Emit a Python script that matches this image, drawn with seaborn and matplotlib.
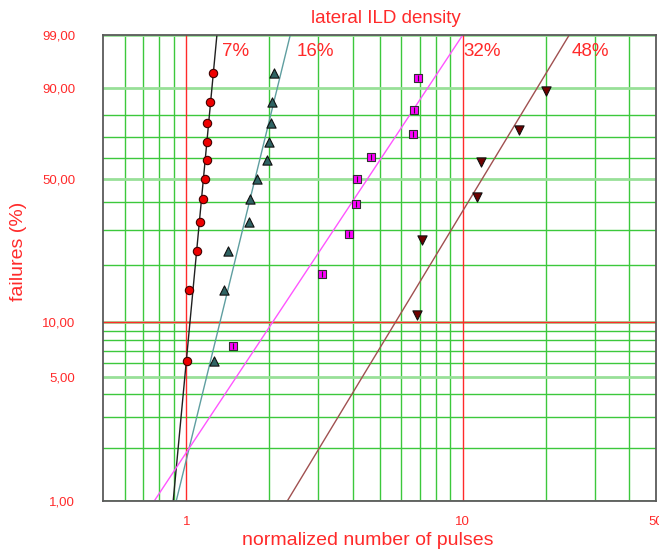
import numpy as np
import matplotlib
matplotlib.use("Agg")
import matplotlib.pyplot as plt
from matplotlib.ticker import FixedLocator, NullFormatter
import seaborn as sns

# normalized number of pulses and failure ranks (%)
pulses_7 = [1.006, 1.023, 1.096, 1.124, 1.146, 1.169, 1.188, 1.188, 1.188, 1.214, 1.245]
fail_7 = [6.1, 14.9, 23.7, 32.5, 41.2, 50.0, 58.8, 67.5, 76.3, 85.1, 93.9]

pulses_16 = [1.26, 1.365, 1.42, 1.69, 1.70, 1.80, 1.963, 1.99, 2.03, 2.05, 2.07]
fail_16 = [6.1, 14.9, 23.7, 32.5, 41.2, 50.0, 58.8, 67.5, 76.3, 85.1, 93.9]

pulses_32 = [1.48, 3.10, 3.88, 4.11, 4.15, 4.67, 6.61, 6.68, 6.87]
fail_32 = [7.4, 18.1, 28.7, 39.4, 50.0, 60.6, 71.3, 81.9, 92.6]

pulses_48 = [6.84, 7.15, 11.27, 11.6, 16.0, 19.97]
fail_48 = [10.9, 26.6, 42.2, 57.8, 73.4, 89.1]

# fitted weibull lines: pulses at 1 % and at 99 %
fit_lo = [0.897, 0.920, 0.766, 2.32]
fit_hi = [1.291, 2.378, 10.0, 24.27]
fit_f = [1, 99]

density_labels = ["7%", "16%", "32%", "48%"]

y_ticks = [1, 5, 10, 50, 90, 99]
y_ticklabels = ["1,00", "5,00", "10,00", "50,00", "90,00", "99,00"]
y_minor = [2, 3, 4, 6, 7, 8, 9, 20, 30, 40, 60, 70, 80]
x_ticks = [0.5, 1, 10, 50]
x_ticklabels = ["", "1", "10", "50"]
x_minor = [0.6, 0.7, 0.8, 0.9, 2, 3, 4, 5, 6, 7, 8, 9, 20, 30, 40]


def weib(p):
    p = np.clip(np.asarray(p, dtype=float), 1e-6, 100 - 1e-6)
    return np.log(-np.log(1 - p / 100))


def weib_inv(t):
    return 100 * (1 - np.exp(-np.exp(t)))


sns.set_style("white")
plt.rcParams['font.family'] = ['Liberation Sans', 'DejaVu Sans']

RED = '#ff2a2a'
GREEN = '#3cc83c'
GREEN_MAJ = '#98e098'
GRAY = '#5a5a5a'

fig = plt.figure(figsize=(6.59, 5.52), dpi=100)
ax = fig.add_axes([103/659, 1 - 501/552, 553/659, 466/552])

ax.set_xscale('log')
ax.set_yscale('function', functions=(weib, weib_inv))
ax.set_xlim(0.5, 50)
ax.set_ylim(1, 99)

ax.set_xticks(x_ticks, labels=x_ticklabels)
ax.xaxis.set_minor_locator(FixedLocator(x_minor))
ax.xaxis.set_minor_formatter(NullFormatter())
ax.set_yticks(y_ticks, labels=y_ticklabels)
ax.yaxis.set_minor_locator(FixedLocator(y_minor))
ax.yaxis.set_minor_formatter(NullFormatter())

ax.set_axisbelow(True)
ax.grid(which='minor', color=GREEN, lw=1, zorder=0)
ax.yaxis.grid(True, which='major', color=GREEN_MAJ, lw=2, zorder=0)
ax.xaxis.grid(False, which='major')
ax.axvline(1, color=RED, lw=1, zorder=1)
ax.axvline(10, color=RED, lw=1, zorder=1)
ax.axhline(10, color=RED, lw=1, zorder=1)

ax.tick_params(which='minor', length=0)
ax.tick_params(axis='both', which='major', length=7, width=1.2, color=GRAY,
               labelcolor=RED, labelsize=9.5)
ax.tick_params(axis='y', pad=13)
ax.tick_params(axis='x', pad=4)
ytick_cols = [GRAY, GREEN_MAJ, RED, GREEN_MAJ, GREEN_MAJ, GRAY]
for t, c in zip(ax.yaxis.get_major_ticks(), ytick_cols):
    t.tick1line.set_markeredgecolor(c)
for t in ax.xaxis.get_major_ticks()[1:3]:
    t.tick1line.set_visible(False)
for s in ax.spines.values():
    s.set_color(GRAY)
    s.set_linewidth(1.3)

# fit lines
line_cols = ['#202020', '#5f9ea0', '#ff55ff', '#a05050']
for lo, hi, c in zip(fit_lo, fit_hi, line_cols):
    sns.lineplot(x=[lo, hi], y=fit_f, color=c, lw=1, sort=False, ax=ax, zorder=2)

# data points
sns.scatterplot(x=pulses_7, y=fail_7, marker='o', s=36, color='#ee0000',
                edgecolor='#400000', linewidth=0.8, ax=ax, zorder=3)
sns.scatterplot(x=pulses_16, y=fail_16, marker='^', s=44, color='#2f6363',
                edgecolor='#101010', linewidth=0.8, ax=ax, zorder=3)
sns.scatterplot(x=pulses_32, y=fail_32, marker='s', s=36, color='#ff00ff',
                edgecolor='#303030', linewidth=0.8, ax=ax, zorder=3)
sns.scatterplot(x=pulses_32, y=fail_32, marker='|', s=24, color='#202020',
                linewidth=0.8, ax=ax, zorder=4)
sns.scatterplot(x=pulses_48, y=fail_48, marker='v', s=44, color='#700000',
                edgecolor='#101010', linewidth=0.8, ax=ax, zorder=3)

label_x = [1.35, 2.50, 10.09, 24.7]
for lx, txt in zip(label_x, density_labels):
    ax.text(lx, 97.5, txt, color=RED, fontsize=13.5, ha='left', va='center')

ax.set_xlabel('')
ax.set_ylabel('')
fig.text(385.5/659, 1 - 23/552, 'lateral ILD density', color=RED, fontsize=13.5,
         ha='center', va='baseline')
fig.text(368/659, 1 - 545/552, 'normalized number of pulses', color=RED,
         fontsize=14, ha='center', va='baseline')
fig.text(18.5/659, 1 - 251/552, 'failures (%)', color=RED, fontsize=14,
         rotation=90, ha='center', va='center')

fig.savefig('out.png', dpi=100)
